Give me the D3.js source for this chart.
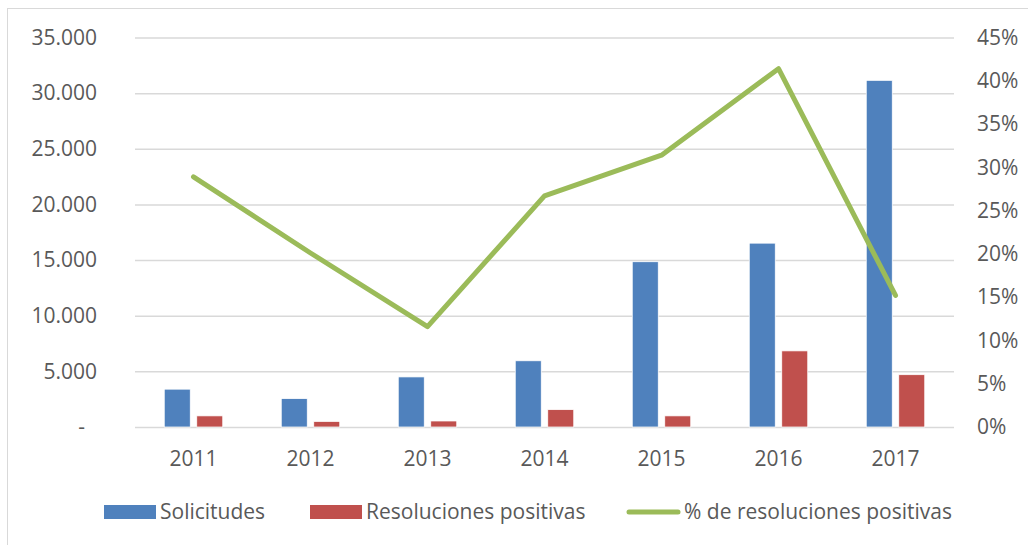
<!DOCTYPE html>
<html>
<head>
<meta charset="utf-8">
<script src="https://cdn.jsdelivr.net/npm/d3@7"></script>
<style>
  body { margin: 0; background: #fff; }
  text { font-family: "Open Sans", sans-serif; fill: #595959; }
</style>
</head>
<body>
<div id="chart-area"></div>
<script>
// Data
let years = ["2011", "2012", "2013", "2014", "2015", "2016", "2017"];
let solicitudes = [3400, 2550, 4500, 5950, 14850, 16520, 31150];
let resoluciones = [1000, 500, 540, 1560, 1000, 6840, 4700];
let porcentaje = [0.289, 0.201, 0.116, 0.267, 0.314, 0.414, 0.152];
let leftTicks = [0, 5000, 10000, 15000, 20000, 25000, 30000, 35000];
let rightTicks = [0, 0.05, 0.10, 0.15, 0.20, 0.25, 0.30, 0.35, 0.40, 0.45];
let seriesNames = ["Solicitudes", "Resoluciones positivas", "% de resoluciones positivas"];

let colors = {blue: "#4f81bd", red: "#c0504d", green: "#9bbb59"};

let width = 1028, height = 545;
let plot = {left: 135, right: 954, top: 37.5, bottom: 427};

let svg = d3.select("#chart-area")
	.append("svg")
	.attr("width", width)
	.attr("height", height);

// chart frame
svg.append("rect")
	.attr("x", 7.5)
	.attr("y", 8.5)
	.attr("width", width + 10)
	.attr("height", height + 10)
	.attr("fill", "none")
	.attr("stroke", "#d9d9d9")
	.attr("stroke-width", 1);

// Scales
let x = d3.scaleBand()
	.domain(years)
	.range([plot.left, plot.right])
	.paddingInner(0.5)
	.paddingOuter(0.25);

let xInner = d3.scaleBand()
	.domain(["sol", "res"])
	.range([0, x.bandwidth()])
	.paddingInner(0.2);

let yLeft = d3.scaleLinear()
	.domain([0, 35000])
	.range([plot.bottom, plot.top]);

let yRight = d3.scaleLinear()
	.domain([0, 0.45])
	.range([plot.bottom, plot.top]);

// Gridlines
let grid = svg.append("g")
	.attr("transform", "translate(" + plot.left + ",0)")
	.call(d3.axisLeft(yLeft).tickValues(leftTicks).tickSize(-(plot.right - plot.left)).tickFormat(""));
grid.select(".domain").remove();
grid.selectAll("line").attr("stroke", "#d9d9d9").attr("stroke-width", 1.5);

// Left axis
let fmt = d3.formatLocale({decimal: ",", thousands: ".", grouping: [3], currency: ["", ""]}).format(",.0f");
let yAxisGroup = svg.append("g")
	.attr("transform", "translate(97,0)")
	.call(d3.axisLeft(yLeft).tickValues(leftTicks).tickSize(0).tickPadding(0)
		.tickFormat(d => d === 0 ? "-" : fmt(d)));
yAxisGroup.select(".domain").remove();
yAxisGroup.selectAll("text")
	.style("font-size", "21px")
	.attr("fill", "#595959")
	.attr("dx", d => d === 0 ? -12 : 0);

// Right axis
let yAxisRight = svg.append("g")
	.attr("transform", "translate(977,0)")
	.call(d3.axisRight(yRight).tickValues(rightTicks).tickSize(0).tickPadding(0)
		.tickFormat(d3.format(".0%")));
yAxisRight.select(".domain").remove();
yAxisRight.selectAll("text")
	.style("font-size", "21px")
	.attr("fill", "#595959");

// X axis labels
let xAxisGroup = svg.append("g")
	.attr("transform", "translate(0," + plot.bottom + ")")
	.call(d3.axisBottom(x).tickSize(0).tickPadding(24));
xAxisGroup.select(".domain").remove();
xAxisGroup.selectAll("text")
	.style("font-size", "21px")
	.attr("fill", "#595959");

// Bars
let barGroup = svg.append("g");
barGroup.selectAll(".bar-sol")
	.data(years)
	.enter()
	.append("rect")
	.attr("x", (d) => x(d) + xInner("sol"))
	.attr("y", (d, i) => yLeft(solicitudes[i]))
	.attr("width", xInner.bandwidth())
	.attr("height", (d, i) => plot.bottom - yLeft(solicitudes[i]))
	.attr("fill", colors.blue)
	.attr("stroke", "#fff")
	.attr("stroke-width", 0.75);

barGroup.selectAll(".bar-res")
	.data(years)
	.enter()
	.append("rect")
	.attr("x", (d) => x(d) + xInner("res"))
	.attr("y", (d, i) => yLeft(resoluciones[i]))
	.attr("width", xInner.bandwidth())
	.attr("height", (d, i) => plot.bottom - yLeft(resoluciones[i]))
	.attr("fill", colors.red)
	.attr("stroke", "#fff")
	.attr("stroke-width", 0.75);

// Line on the secondary axis
let line = d3.line()
	.x((d, i) => x(years[i]) + x.bandwidth() / 2)
	.y(d => yRight(d));

svg.append("path")
	.datum(porcentaje)
	.attr("d", line)
	.attr("fill", "none")
	.attr("stroke", colors.green)
	.attr("stroke-width", 5)
	.attr("stroke-linejoin", "round")
	.attr("stroke-linecap", "round");

// Legend
let legend = svg.append("g").attr("transform", "translate(0,512)");

legend.append("rect").attr("x", 104).attr("y", -7).attr("width", 52).attr("height", 14).attr("fill", colors.blue);
legend.append("text").attr("x", 160).attr("y", 0).attr("dy", "0.35em").style("font-size", "21px").text(seriesNames[0]);

legend.append("rect").attr("x", 310).attr("y", -7).attr("width", 52).attr("height", 14).attr("fill", colors.red);
legend.append("text").attr("x", 366).attr("y", 0).attr("dy", "0.35em").style("font-size", "21px").text(seriesNames[1]);

legend.append("line").attr("x1", 629).attr("x2", 678).attr("y1", 0).attr("y2", 0)
	.attr("stroke", colors.green).attr("stroke-width", 5).attr("stroke-linecap", "round");
legend.append("text").attr("x", 684).attr("y", 0).attr("dy", "0.35em").style("font-size", "21px").text(seriesNames[2]);
</script>
</body>
</html>
